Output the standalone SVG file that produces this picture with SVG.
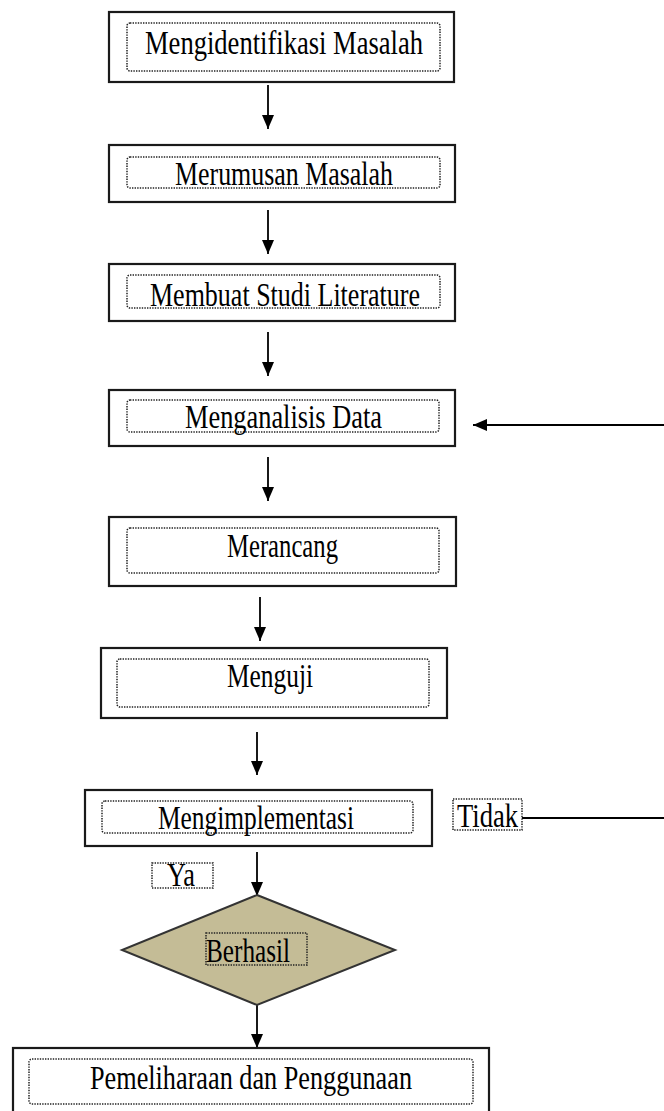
<svg xmlns="http://www.w3.org/2000/svg" width="664" height="1111" viewBox="0 0 664 1111">
<style>
.box{fill:#fff;stroke:#1a1a1a;stroke-width:2.2}
.dot{fill:none;stroke:#222;stroke-width:1.5;stroke-dasharray:1.4 1.2}
.t{font-family:"Liberation Serif","Times New Roman",serif;font-size:34px;fill:#000}
.ln{stroke:#000;stroke-width:1.8;fill:none}
</style>
<defs>
<marker id="ah" viewBox="0 0 14 12" refX="14" refY="6" markerWidth="14" markerHeight="12" markerUnits="userSpaceOnUse" orient="auto">
<path d="M0,0 L14,6 L0,12 z" fill="#000"/>
</marker>
</defs>
<rect width="664" height="1111" fill="#fff"/>
<g id="connectors">
<line class="ln" x1="268" y1="85" x2="268" y2="129" marker-end="url(#ah)"/>
<line class="ln" x1="268" y1="210" x2="268" y2="254" marker-end="url(#ah)"/>
<line class="ln" x1="268" y1="332" x2="268" y2="376" marker-end="url(#ah)"/>
<line class="ln" x1="268" y1="457" x2="268" y2="501" marker-end="url(#ah)"/>
<line class="ln" x1="260" y1="597" x2="260" y2="641" marker-end="url(#ah)"/>
<line class="ln" x1="257" y1="732" x2="257" y2="775" marker-end="url(#ah)"/>
<line class="ln" x1="257" y1="852" x2="257" y2="896" marker-end="url(#ah)"/>
<line class="ln" x1="257" y1="1005" x2="257" y2="1048" marker-end="url(#ah)"/>
<line class="ln" x1="664" y1="425" x2="473" y2="425" marker-end="url(#ah)"/>
<line class="ln" x1="522" y1="818" x2="664" y2="818"/>
</g>
<g id="n1">
<rect class="box" x="109" y="12" width="345" height="70"/>
<rect class="dot" x="127" y="23" width="313" height="48" rx="3"/>
<text class="t" x="145" y="54" textLength="278" lengthAdjust="spacingAndGlyphs">Mengidentifikasi  Masalah</text>
</g>
<g id="n2">
<rect class="box" x="109" y="145" width="346" height="57"/>
<rect class="dot" x="127" y="157" width="313" height="31" rx="3"/>
<text class="t" x="175" y="185" textLength="218" lengthAdjust="spacingAndGlyphs">Merumusan Masalah</text>
</g>
<g id="n3">
<rect class="box" x="109" y="264" width="346" height="57"/>
<rect class="dot" x="127" y="275" width="313" height="33" rx="3"/>
<text class="t" x="150" y="306" textLength="270" lengthAdjust="spacingAndGlyphs">Membuat Studi Literature</text>
</g>
<g id="n4">
<rect class="box" x="109" y="390" width="346" height="56"/>
<rect class="dot" x="127" y="400" width="312" height="32" rx="3"/>
<text class="t" x="185" y="428" textLength="197" lengthAdjust="spacingAndGlyphs">Menganalisis Data</text>
</g>
<g id="n5">
<rect class="box" x="109" y="517" width="347" height="69"/>
<rect class="dot" x="127" y="528" width="312" height="45" rx="3"/>
<text class="t" x="227" y="557" textLength="111" lengthAdjust="spacingAndGlyphs">Merancang</text>
</g>
<g id="n6">
<rect class="box" x="101" y="648" width="346" height="70"/>
<rect class="dot" x="117" y="659" width="312" height="48" rx="3"/>
<text class="t" x="227" y="687" textLength="86" lengthAdjust="spacingAndGlyphs">Menguji</text>
</g>
<g id="n7">
<rect class="box" x="85" y="790" width="347" height="56"/>
<rect class="dot" x="102" y="801" width="311" height="32" rx="3"/>
<text class="t" x="158" y="829" textLength="196" lengthAdjust="spacingAndGlyphs">Mengimplementasi</text>
</g>
<g id="lbl-tidak">
<rect class="dot" x="453" y="799" width="69" height="31"/>
<text class="t" x="457" y="827" textLength="61" lengthAdjust="spacingAndGlyphs">Tidak</text>
</g>
<g id="lbl-ya">
<rect class="dot" x="152" y="863" width="61" height="25"/>
<text class="t" x="167" y="886" textLength="28" lengthAdjust="spacingAndGlyphs">Ya</text>
</g>
<g id="n8">
<polygon points="257,895 395,950 257,1005 122,950" fill="#c4bc96" stroke="#333" stroke-width="2"/>
<rect class="dot" x="206" y="933" width="101" height="32"/>
<text class="t" x="206" y="962" textLength="84" lengthAdjust="spacingAndGlyphs">Berhasil</text>
</g>
<g id="n9">
<rect class="box" x="13" y="1048" width="476" height="70"/>
<rect class="dot" x="29" y="1059" width="444" height="45" rx="3"/>
<text class="t" x="90" y="1089" textLength="322" lengthAdjust="spacingAndGlyphs">Pemeliharaan  dan Penggunaan</text>
</g>
</svg>
